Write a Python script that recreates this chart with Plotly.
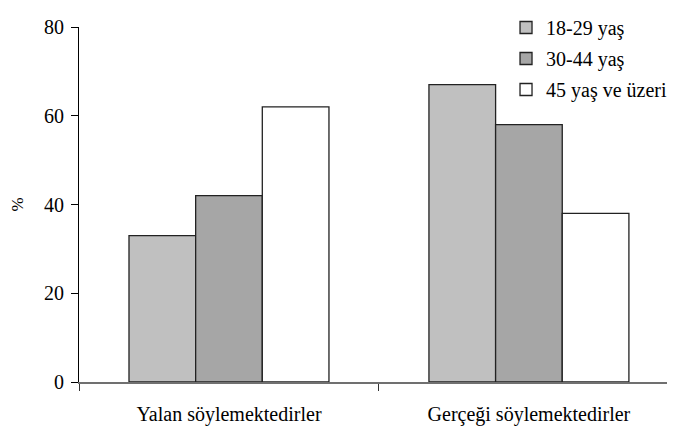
import plotly.graph_objects as go

# data
categories = ["Yalan söylemektedirler", "Gerçeği söylemektedirler"]
age_groups = ["18-29 yaş", "30-44 yaş", "45 yaş ve üzeri"]
values_18_29 = [33, 67]
values_30_44 = [42, 58]
values_45_plus = [62, 38]
y_ticks = [0, 20, 40, 60, 80]

BAR_COLORS = ["#c0c0c0", "#a6a6a6", "#ffffff"]
FONT = "Liberation Serif"

fig = go.Figure()
for i, (name, vals) in enumerate(zip(age_groups, [values_18_29, values_30_44, values_45_plus])):
    fig.add_trace(
        go.Bar(
            x=categories,
            y=vals,
            name=name,
            legendgroup=name,
            marker=dict(color=BAR_COLORS[i], line=dict(color="#222222", width=1.3)),
        )
    )

# note: the page body adds an 8px offset, margins below compensate for it
fig.update_layout(
    width=675,
    height=435,
    margin=dict(l=71, r=8, t=19, b=61, autoexpand=False),
    paper_bgcolor="white",
    plot_bgcolor="white",
    barmode="group",
    bargap=1 / 3,
    bargroupgap=0,
    font=dict(family=FONT, size=20, color="black"),
    showlegend=True,
    legend=dict(
        xref="paper",
        yref="container",
        x=0.995,
        xanchor="right",
        y=1.0,
        yanchor="top",
        font=dict(family=FONT, size=20, color="black"),
        tracegroupgap=2,
        borderwidth=0,
        bgcolor="rgba(0,0,0,0)",
        itemwidth=30,
    ),
)
fig.update_xaxes(
    range=[-0.5, 1.487],
    showline=True,
    linecolor="#707070",
    linewidth=2,
    ticks="outside",
    tickson="boundaries",
    ticklen=7,
    tickcolor="#333333",
    tickfont=dict(family=FONT, size=20),
    ticklabelstandoff=13,
    showgrid=False,
)
fig.update_yaxes(
    range=[0, 80],
    tickvals=y_ticks,
    showline=True,
    linecolor="black",
    linewidth=1,
    ticks="outside",
    ticklen=7,
    tickcolor="black",
    tickfont=dict(family=FONT, size=20),
    ticklabelstandoff=3,
    showgrid=False,
    zeroline=False,
    title=dict(text="%", font=dict(family=FONT, size=17), standoff=22),
)

fig.write_html("out.html")
